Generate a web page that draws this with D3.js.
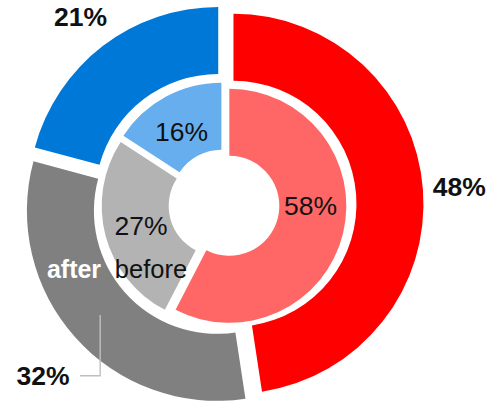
<!DOCTYPE html>
<html>
<head>
<meta charset="utf-8">
<script src="https://cdn.jsdelivr.net/npm/d3@7"></script>
<style>
  html, body { margin: 0; padding: 0; background: #fff; }
  #chart { width: 495px; height: 402px; }
  text { font-family: "Liberation Sans", Arial, sans-serif; }
</style>
</head>
<body>
<div id="chart"></div>
<script>
// data (shares in %)
const categories = ["Group A", "Group B", "Group C"];
const afterValues = [47.6, 31.6, 20.8];
const beforeValues = [57.6, 26.6, 15.8];
const ringNames = ["after", "before"];

(function(){

const width = 495;
const height = 402;
const cx = 224, cy = 204.5;

const afterColors = ["#ff0000", "#808080", "#0078d7"];
const beforeColors = ["#ff6666", "#b3b3b3", "#66aeee"];

// nudges for the inner labels (Excel does not sit them on the centroid)
const innerNudge = [[0, -20], [3, -1], [0, 5]];

const svg = d3.select("#chart")
  .append("svg")
  .attr("width", width)
  .attr("height", height)
  .attr("viewBox", `0 0 ${width} ${height}`);

const g = svg.append("g")
  .attr("transform", `translate(${cx},${cy})`);

const pie = d3.pie().sort(null).value(d => d);
const pct = d => Math.round(d) + "%";

const ringDefs = [
  {name: ringNames[0], values: afterValues, colors: afterColors, r0: 123, r1: 190, explode: 9.5},
  {name: ringNames[1], values: beforeValues, colors: beforeColors, r0: 50, r1: 117, explode: 5.5}
];

// shift along the bisector, like an exploded slice
function offset(d, e) {
  const a = (d.startAngle + d.endAngle) / 2;
  return [Math.sin(a) * e, -Math.cos(a) * e];
}

ringDefs.forEach(ring => {
  const arc = d3.arc().innerRadius(ring.r0).outerRadius(ring.r1);
  ring.arc = arc;
  ring.slices = pie(ring.values);

  g.append("g")
    .selectAll("path")
    .data(ring.slices)
    .enter()
    .append("path")
    .attr("d", arc)
    .attr("fill", (d, i) => ring.colors[i])
    .attr("transform", d => {
      const [dx, dy] = offset(d, ring.explode);
      return `translate(${dx},${dy})`;
    });
});

// inner ring labels
const inner = ringDefs[1];
g.selectAll(".inLabel")
  .data(inner.slices)
  .enter()
  .append("text")
  .attr("class", "inLabel")
  .attr("x", (d, i) => inner.arc.centroid(d)[0] + offset(d, inner.explode)[0] + innerNudge[i][0])
  .attr("y", (d, i) => inner.arc.centroid(d)[1] + offset(d, inner.explode)[1] + innerNudge[i][1])
  .attr("dy", "0.35em")
  .attr("text-anchor", "middle")
  .style("font-size", "26.5px")
  .attr("fill", "#111")
  .text(d => pct(d.data));

// outer ring labels, outside the ring
const outer = ringDefs[0];
const labelArc = d3.arc().innerRadius(236).outerRadius(236);
const outerNudge = [[0, 0], [-5, 14], [0, 0]];

const outPos = outer.slices.map((d, i) => {
  const c = labelArc.centroid(d);
  return [c[0] + outerNudge[i][0], c[1] + outerNudge[i][1]];
});

// leader line for the gray slice
const gray = outer.slices[1];
const gc = outer.arc.centroid(gray);
const go = offset(gray, outer.explode);
const end = [gc[0] + go[0], gc[1] + go[1]];
g.append("path")
  .attr("d", d3.line()([
    [outPos[1][0] + 37, outPos[1][1]],
    [end[0], outPos[1][1]],
    end
  ]))
  .attr("fill", "none")
  .attr("stroke", "#bfbfbf")
  .attr("stroke-width", 1.4);

g.selectAll(".outLabel")
  .data(outer.slices)
  .enter()
  .append("text")
  .attr("class", "outLabel")
  .attr("x", (d, i) => outPos[i][0])
  .attr("y", (d, i) => outPos[i][1])
  .attr("dy", "0.35em")
  .attr("text-anchor", "middle")
  .style("font-size", "26.5px")
  .style("font-weight", "bold")
  .attr("fill", "#111")
  .text(d => pct(d.data));

// ring names
svg.append("text")
  .attr("x", 74)
  .attr("y", 277.7)
  .attr("text-anchor", "middle")
  .style("font-size", "25px")
  .style("font-weight", "bold")
  .attr("fill", "#fff")
  .text(ringNames[0]);

svg.append("text")
  .attr("x", 151)
  .attr("y", 277.7)
  .attr("text-anchor", "middle")
  .style("font-size", "25.5px")
  .attr("fill", "#111")
  .text(ringNames[1]);

})();
</script>
</body>
</html>
